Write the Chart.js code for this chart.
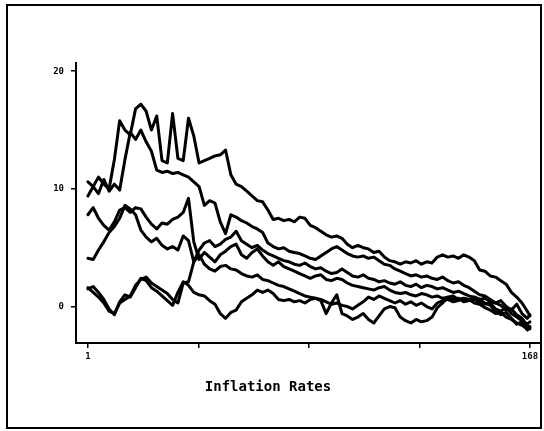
<!DOCTYPE html>
<html><head><meta charset="utf-8">
<script src="https://cdn.jsdelivr.net/npm/chart.js@4/dist/chart.umd.min.js"></script>
<style>
html,body{margin:0;padding:0;background:#fff;width:544px;height:431px;overflow:hidden}
#wrap{position:relative;width:544px;height:431px}
#frame{position:absolute;left:6px;top:4px;width:532px;height:421px;border:2px solid #000;pointer-events:none}
canvas{position:absolute;left:0;top:0}
</style></head><body>
<div id="wrap"><canvas id="c" width="544" height="431"></canvas><div id="frame"></div></div>
<script>
const months = [1,3,5,7,9,11,13,15,17,19,21,23,25,27,29,31,33,35,37,39,41,43,45,47,49,51,53,55,57,59,61,63,65,67,69,71,73,75,77,79,81,83,85,87,89,91,93,95,97,99,101,103,105,107,109,111,113,115,117,119,121,123,125,127,129,131,133,135,137,139,141,143,145,147,149,151,153,155,157,159,161,163,165,167,168];

const series1 = [10.6,10.2,11.0,10.4,10.0,12.5,15.8,15.0,14.6,16.8,
 17.2,16.6,15.0,16.2,12.4,12.2,16.4,12.6,12.4,16.0,
 14.5,12.2,12.4,12.6,12.8,12.9,13.3,11.2,10.4,10.2,
 9.8,9.4,9.0,8.9,8.2,7.4,7.5,7.3,7.4,7.2,
 7.6,7.5,6.9,6.7,6.4,6.1,5.9,6.0,5.8,5.3,
 5.0,5.2,5.0,4.9,4.6,4.7,4.2,3.9,3.8,3.6,
 3.8,3.7,3.9,3.6,3.8,3.7,4.2,4.4,4.2,4.3,
 4.1,4.4,4.2,3.9,3.1,3.0,2.6,2.5,2.2,1.9,
 1.2,0.8,0.3,-0.4,-0.8];
const series2 = [9.4,10.2,9.6,10.8,9.8,10.4,9.9,12.5,14.8,14.2,
 15.0,14.0,13.2,11.6,11.4,11.5,11.3,11.4,11.2,11.0,
 10.6,10.2,8.6,9.0,8.8,7.2,6.2,7.8,7.6,7.3,
 7.1,6.8,6.6,6.3,5.4,5.1,4.9,5.0,4.7,4.6,
 4.5,4.3,4.1,4.0,4.3,4.6,4.9,5.1,4.8,4.5,
 4.3,4.2,4.3,4.1,4.2,3.9,3.6,3.5,3.2,3.0,
 2.8,2.6,2.7,2.5,2.6,2.4,2.3,2.5,2.2,2.0,
 2.1,1.8,1.6,1.3,1.0,0.9,0.6,0.3,0.5,0.0,
 -0.3,0.2,-0.6,-1.0,-0.7];
const series3 = [7.8,8.4,7.5,6.9,6.5,7.2,8.2,8.4,8.0,8.4,
 8.3,7.6,7.0,6.6,7.1,7.0,7.4,7.6,8.0,9.2,
 5.5,4.0,4.6,4.2,3.8,4.4,4.7,5.1,5.3,4.4,
 4.1,4.6,4.9,4.3,3.8,3.5,3.8,3.4,3.2,3.0,
 2.8,2.6,2.4,2.6,2.7,2.3,2.2,2.4,2.3,2.0,
 1.8,1.7,1.6,1.5,1.4,1.6,1.7,1.4,1.2,1.1,
 1.2,1.0,0.9,1.1,1.0,0.8,0.9,0.7,0.8,0.9,
 0.6,0.7,0.5,0.6,0.4,0.2,0.3,-0.2,-0.4,-0.1,
 -0.6,-0.9,-1.2,-1.5,-1.3];
const series4 = [4.1,4.0,4.8,5.5,6.3,6.8,7.5,8.6,8.3,7.8,
 6.5,5.9,5.5,5.8,5.2,4.9,5.1,4.8,6.0,5.6,
 3.8,4.8,5.4,5.6,5.1,5.3,5.7,5.9,6.4,5.6,
 5.3,5.0,5.2,4.8,4.5,4.3,4.1,3.9,3.8,3.6,
 3.5,3.7,3.4,3.2,3.3,3.0,2.8,2.9,3.2,2.9,
 2.6,2.5,2.7,2.4,2.3,2.1,2.2,2.0,1.9,2.1,
 1.8,1.7,1.9,1.6,1.8,1.7,1.5,1.6,1.4,1.2,
 1.3,1.1,0.9,0.8,0.6,0.7,0.4,0.3,0.1,-0.3,
 -0.2,-0.7,-1.0,-1.6,-1.9];
const series5 = [1.6,1.2,0.8,0.3,-0.4,-0.6,0.3,0.6,0.9,1.8,
 2.3,2.5,2.0,1.7,1.4,1.1,0.6,0.3,2.0,2.1,
 3.8,4.4,3.6,3.2,3.0,3.4,3.5,3.2,3.1,2.8,
 2.6,2.5,2.7,2.3,2.2,2.0,1.8,1.7,1.5,1.3,
 1.1,0.9,0.8,0.7,0.6,0.4,0.2,0.3,0.1,0.0,
 -0.2,0.1,0.4,0.8,0.6,0.9,0.7,0.5,0.3,0.5,
 0.2,0.4,0.1,0.3,0.0,-0.2,0.3,0.5,0.6,0.4,
 0.5,0.7,0.6,0.3,0.2,-0.1,-0.3,-0.6,-0.5,-0.9,
 -1.1,-1.4,-1.6,-1.9,-1.7];
const series6 = [1.5,1.7,1.2,0.6,-0.2,-0.7,0.4,1.0,0.8,1.6,
 2.4,2.2,1.6,1.3,0.9,0.5,0.1,1.2,2.1,1.8,
 1.2,1.0,0.9,0.5,0.2,-0.6,-1.0,-0.5,-0.3,0.4,
 0.7,1.0,1.4,1.2,1.4,1.1,0.6,0.5,0.6,0.4,
 0.5,0.3,0.6,0.7,0.5,-0.6,0.3,1.0,-0.6,-0.8,
 -1.1,-0.9,-0.6,-1.1,-1.4,-0.8,-0.2,0.0,-0.1,-0.9,
 -1.2,-1.4,-1.1,-1.3,-1.2,-0.9,-0.1,0.3,0.8,0.6,
 0.7,0.4,0.5,0.8,0.6,0.3,0.1,-0.4,-0.7,-0.5,
 -1.0,-1.5,-1.3,-2.0,-1.8];

const allSeries = [series1, series2, series3, series4, series5, series6];
const yTickValues = [0, 10, 20];
const xTickValues = [1, 42.75, 84.5, 126.25, 168];
const xTickLabels = {1: '1', 168: '168'};
const axisTitle = 'Inflation Rates';

const titlePlugin = {
  id: 'axisTitleText',
  afterDraw(chart) {
    const ctx = chart.ctx;
    ctx.save();
    ctx.fillStyle = '#000';
    ctx.font = 'bold 14px "DejaVu Sans Mono"';
    ctx.textAlign = 'center';
    ctx.textBaseline = 'middle';
    ctx.fillText(axisTitle, 268, 387);
    ctx.restore();
  }
};

new Chart(document.getElementById('c'), {
  type: 'line',
  data: {
    datasets: allSeries.map(s => ({
      data: months.map((m, i) => ({x: m, y: s[i]})),
      borderColor: '#000',
      borderWidth: 3,
      pointRadius: 0,
      tension: 0,
      fill: false,
      borderJoinStyle: 'round',
      borderCapStyle: 'round'
    }))
  },
  options: {
    responsive: false,
    devicePixelRatio: 1,
    animation: false,
    layout: {padding: {left: 0, top: 63, right: 4, bottom: 0}},
    plugins: {legend: {display: false}, tooltip: {enabled: false}},
    scales: {
      x: {
        type: 'linear', min: -3.5, max: 171.8,
        afterBuildTicks: s => { s.ticks = xTickValues.map(v => ({value: v})); },
        afterFit: s => { s.height = 88; },
        ticks: {
          autoSkip: false, maxRotation: 0, padding: 3,
          color: '#000', font: {family: 'DejaVu Sans Mono', size: 9, weight: 'bold'},
          callback: v => xTickLabels[v] ?? ''
        },
        grid: {drawOnChartArea: false, tickLength: 5, color: '#000', lineWidth: 1.5},
        border: {display: true, color: '#000', width: 2}
      },
      y: {
        type: 'linear', min: -3.1, max: 20.7,
        afterBuildTicks: s => { s.ticks = yTickValues.map(v => ({value: v})); },
        afterFit: s => { s.width = 76; },
        ticks: {
          padding: 7, color: '#000',
          font: {family: 'DejaVu Sans Mono', size: 9, weight: 'bold'}
        },
        grid: {drawOnChartArea: false, tickLength: 5, color: '#000', lineWidth: 1.5},
        border: {display: true, color: '#000', width: 2}
      }
    }
  },
  plugins: [titlePlugin]
});
</script>
</body></html>
